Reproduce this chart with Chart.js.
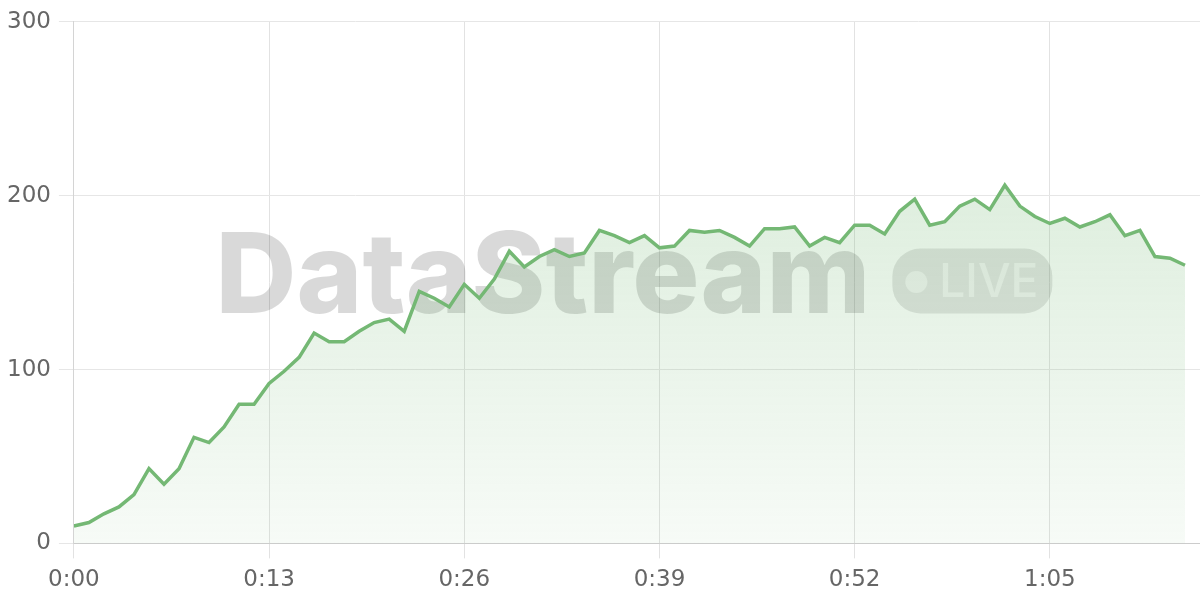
<!DOCTYPE html>
<html>
<head>
<meta charset="utf-8">
<script src="https://cdn.jsdelivr.net/npm/chart.js@4.4.1/dist/chart.umd.min.js"></script>
<style>
  html, body { margin: 0; padding: 0; background: #fff; }
  #wrap { width: 1200px; height: 600px; }
</style>
</head>
<body>
<div id="wrap"><canvas id="grafico"></canvas></div>
<script>
// Valores (um ponto por segundo)
const valores = [
  10, 12, 17, 21, 28, 43, 34, 43, 61, 58,
  67, 80, 80, 92, 99, 107, 121, 116, 116, 122,
  127, 129, 122, 145, 141, 136, 149, 141, 152, 168,
  159, 165, 169, 165, 167, 180, 177, 173, 177, 170,
  171, 180, 179, 180, 176, 171, 181, 181, 182, 171,
  176, 173, 183, 183, 178, 191, 198, 183, 185, 194,
  198, 192, 206, 194, 188, 184, 187, 182, 185, 189,
  177, 180, 165, 164, 160
];
const segundos = valores.map((_, i) => i);

// Marcas do eixo X
const ticksX = [0, 13, 26, 39, 52, 65];
const rotulosX = ['0:00', '0:13', '0:26', '0:39', '0:52', '1:05'];
const ticksY = [0, 100, 200, 300];

const verde = 'rgb(116, 184, 116)';

// Marca d'água "DataStream • LIVE" atrás da linha
const marcaDagua = {
  id: 'marcaDagua',
  beforeDatasetsDraw(chart) {
    const { ctx, chartArea } = chart;
    const cx = (chartArea.left + chartArea.right) / 2 - 3;
    const cy = 281;
    ctx.save();
    ctx.font = '800 112px Inter';
    const wTexto = ctx.measureText('DataStream').width;
    const pilulaW = 160, pilulaH = 65, gap = 22;
    const total = wTexto + gap + pilulaW;
    const x0 = cx - total / 2;
    ctx.fillStyle = 'rgba(0, 0, 0, 0.15)';
    ctx.textBaseline = 'alphabetic';
    ctx.fillText('DataStream', x0, 313);

    const px = x0 + wTexto + gap;
    const py = cy - pilulaH / 2;
    ctx.beginPath();
    ctx.roundRect(px, py, pilulaW, pilulaH, 28);
    ctx.fillStyle = 'rgba(0, 0, 0, 0.11)';
    ctx.fill();

    ctx.fillStyle = 'rgba(255, 255, 255, 0.55)';
    ctx.beginPath();
    ctx.arc(px + 24, cy + 1, 11, 0, Math.PI * 2);
    ctx.fill();
    ctx.font = '500 46px Inter';
    ctx.textBaseline = 'middle';
    ctx.fillText('LIVE', px + 47, cy + 2);
    ctx.restore();
  }
};

const ctx = document.getElementById('grafico').getContext('2d');
new Chart(ctx, {
  type: 'line',
  data: {
    datasets: [{
      data: segundos.map((s, i) => ({ x: s, y: valores[i] })),
      borderColor: verde,
      borderWidth: 3.5,
      pointRadius: 0,
      tension: 0,
      fill: 'origin',
      backgroundColor: (c) => {
        const area = c.chart.chartArea;
        if (!area) return 'rgba(116,184,116,0.15)';
        const g = c.chart.ctx.createLinearGradient(0, 180, 0, area.bottom);
        g.addColorStop(0, 'rgba(116, 184, 116, 0.24)');
        g.addColorStop(1, 'rgba(116, 184, 116, 0.06)');
        return g;
      }
    }]
  },
  options: {
    responsive: true,
    maintainAspectRatio: false,
    animation: false,
    layout: { padding: { top: 2, left: -1, right: 0, bottom: -2 } },
    plugins: { legend: { display: false }, tooltip: { enabled: false } },
    scales: {
      x: {
        type: 'linear',
        min: 0,
        max: 75,
        afterBuildTicks: (axis) => { axis.ticks = ticksX.map(v => ({ value: v })); },
        ticks: {
          callback: (v, i) => rotulosX[i],
          color: '#666',
          font: { family: 'DejaVu Sans', size: 23 },
          padding: 8,
          maxRotation: 0
        },
        grid: { color: '#e2e2e2', tickLength: 15 },
        border: { color: '#cccccc' }
      },
      y: {
        min: 0,
        max: 300,
        afterBuildTicks: (axis) => { axis.ticks = ticksY.map(v => ({ value: v })); },
        ticks: {
          color: '#666',
          font: { family: 'DejaVu Sans', size: 23 },
          padding: 8
        },
        grid: { color: '#e6e6e6', tickLength: 15 },
        border: { color: '#d4d4d4' }
      }
    }
  },
  plugins: [marcaDagua]
});
</script>
</body>
</html>
